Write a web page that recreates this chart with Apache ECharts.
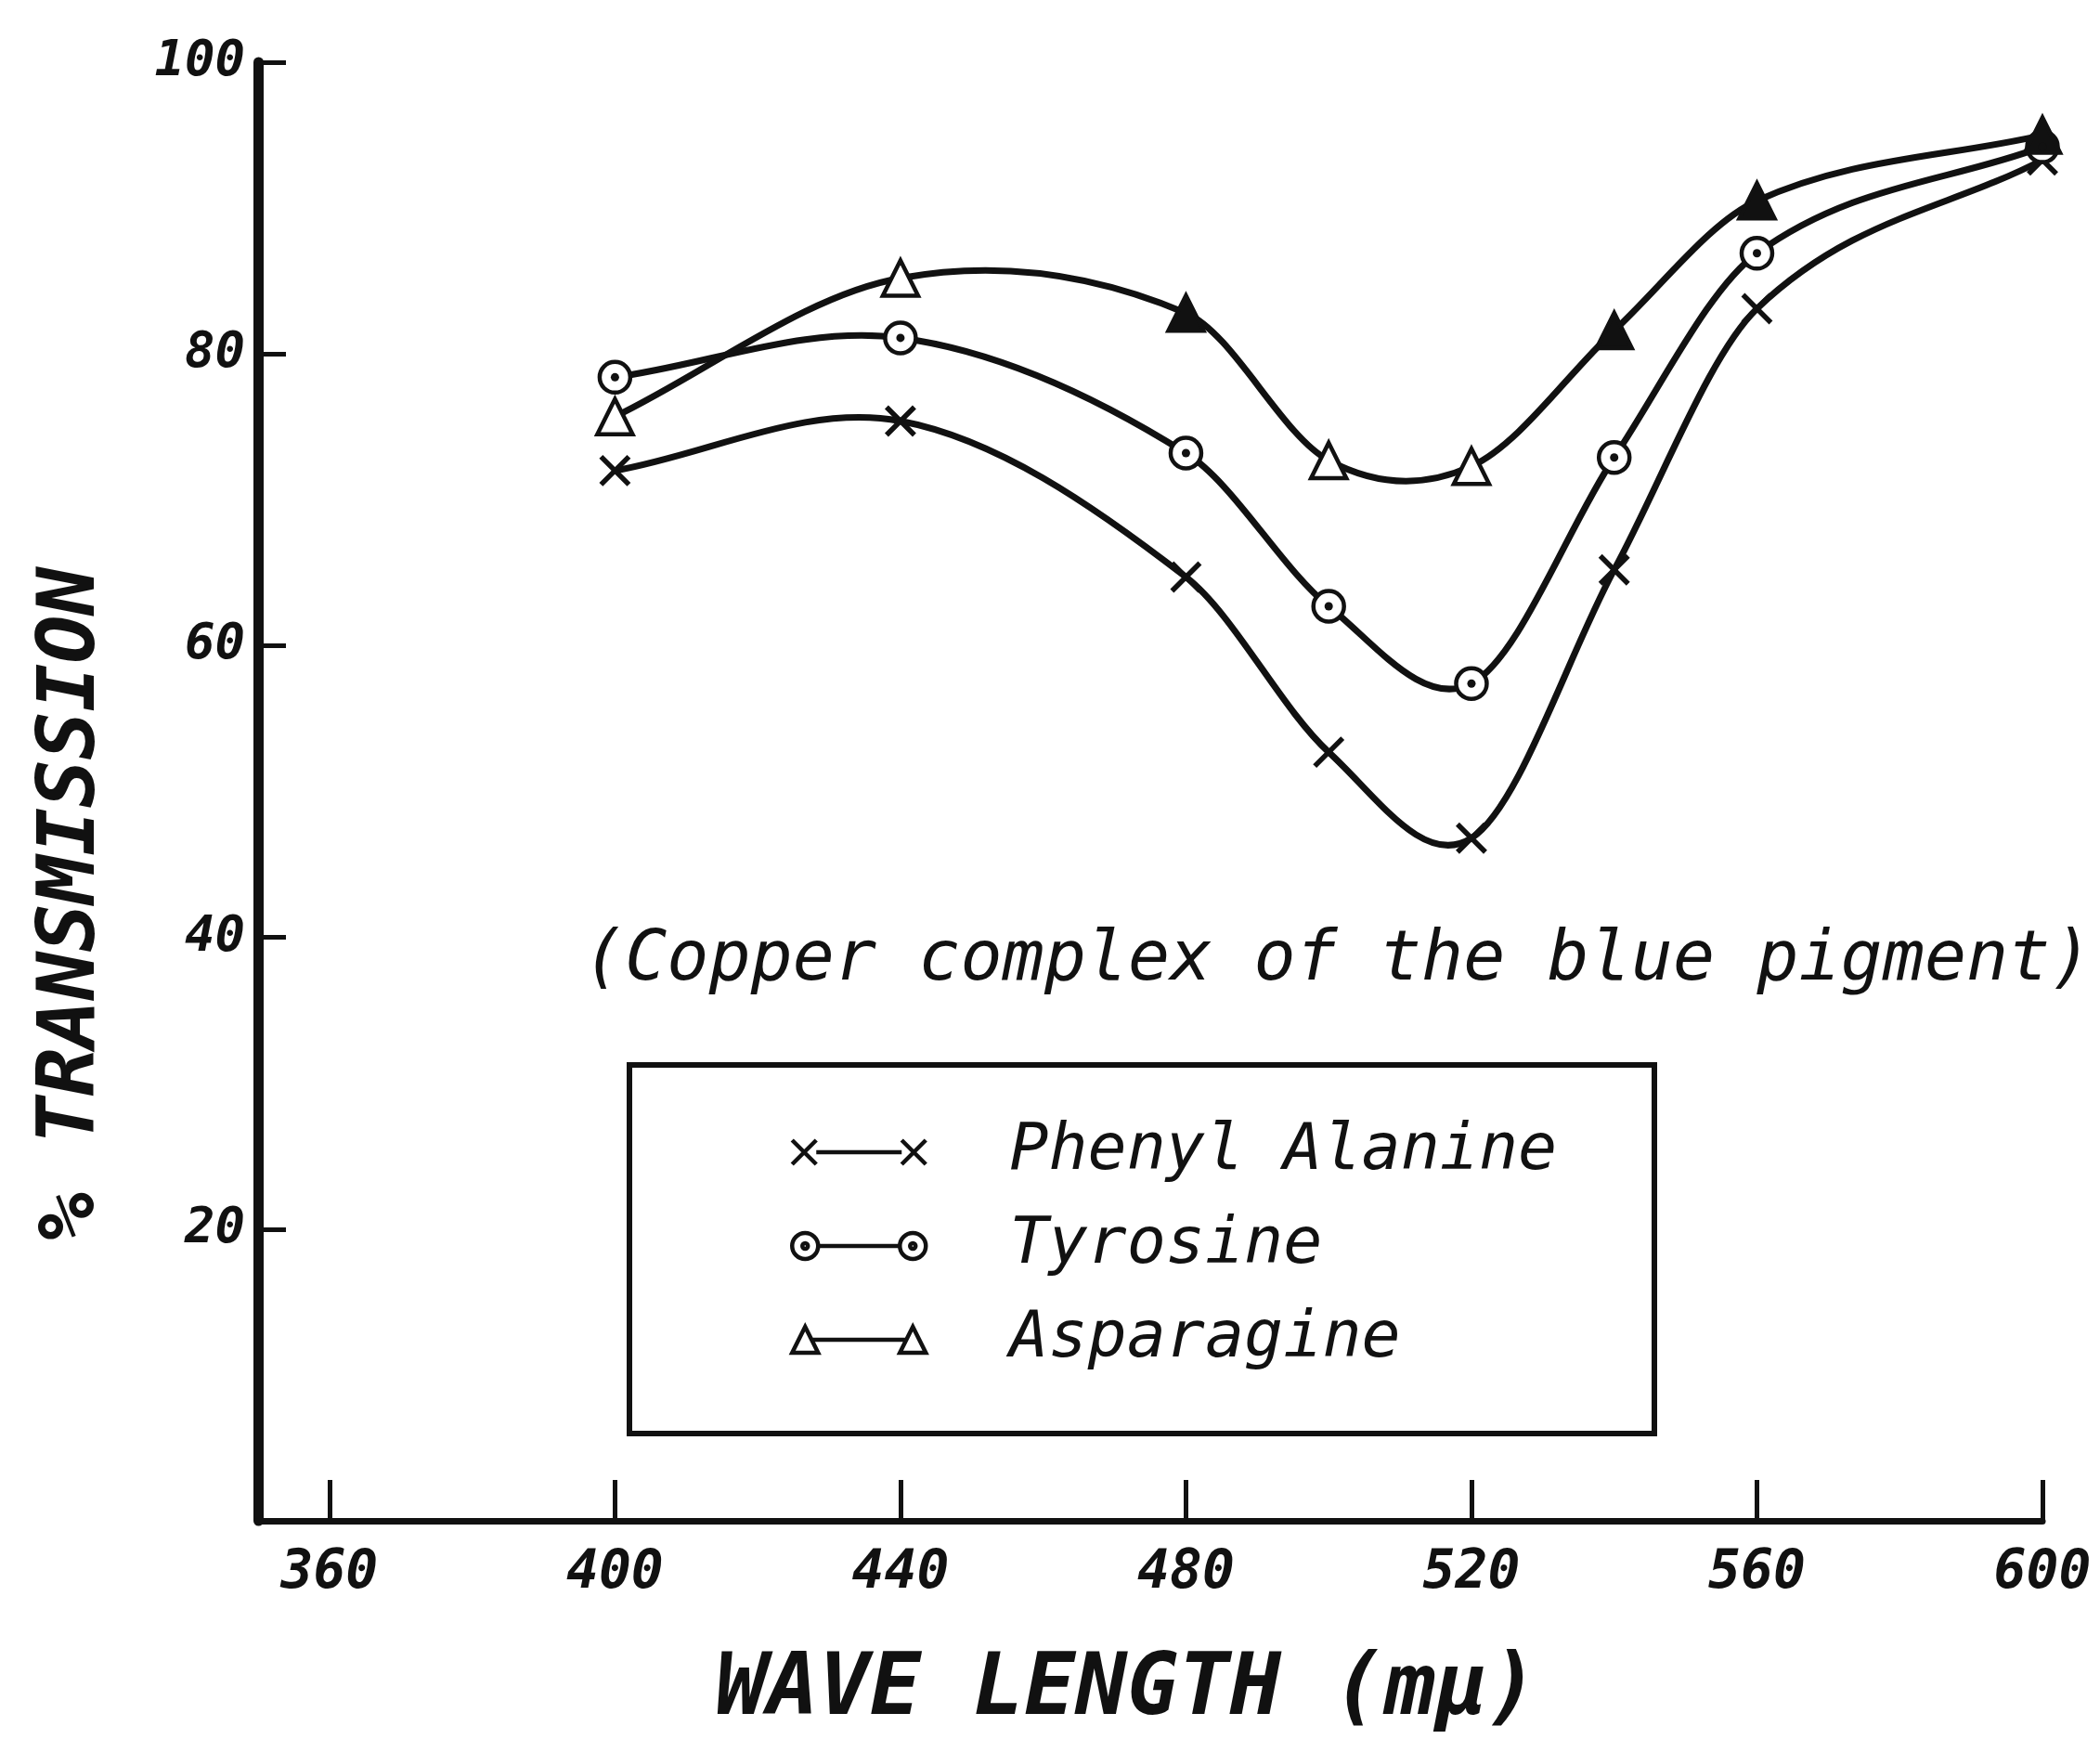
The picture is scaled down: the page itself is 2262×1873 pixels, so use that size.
<!DOCTYPE html>
<html><head><meta charset="utf-8">
<script src="https://cdn.jsdelivr.net/npm/echarts@6/dist/echarts.min.js"></script>
<style>html,body{margin:0;padding:0;background:#fff}#c{width:2262px;height:1873px}</style>
</head><body><div id="c"></div>
<script>
// ---- data ----
const wavelengths = [400, 440, 480, 500, 520, 540, 560, 600];
const phenylAlanine = [72.0, 75.4, 64.7, 52.7, 46.8, 65.2, 83.1, 93.3];
const tyrosine = [78.4, 81.1, 73.2, 62.7, 57.4, 72.9, 86.9, 94.2];
const asparagine = [75.7, 85.2, 82.8, 72.7, 72.3, 81.6, 90.5, 95.0];
const xTickValues = [360, 400, 440, 480, 520, 560, 600];
const yTickValues = [20, 40, 60, 80, 100];
const seriesNames = ['Phenyl Alanine', 'Tyrosine', 'Asparagine'];
const annotationText = '(Copper complex of the blue pigment)';
const xAxisTitle = 'WAVE LENGTH (m\u03bc)';
const yAxisTitle = '% TRANSMISSION';
// which asparagine triangles are drawn solid in the original
const asparagineSolid = [false, false, true, false, false, true, true, true];

// ---- styling ----
const FONT = "'DejaVu Sans Mono', monospace";
const INK = '#111';
const pairs = (ys) => wavelengths.map((x, i) => [x, ys[i]]);

// smooth hand-drawn style curve through the points (cubic Hermite, converted via the axis scales)
function splinePath(xs, ys, api) {
  const n = xs.length;
  const m = xs.map((x, i) => {
    if (i === 0) return (ys[1] - ys[0]) / (xs[1] - xs[0]);
    if (i === n - 1) return (ys[n - 1] - ys[n - 2]) / (xs[n - 1] - xs[n - 2]);
    return (ys[i + 1] - ys[i - 1]) / (xs[i + 1] - xs[i - 1]);
  });
  const P = (x, y) => api.coord([x, y]);
  const p0 = P(xs[0], ys[0]);
  let d = 'M' + p0[0] + ',' + p0[1];
  for (let i = 0; i < n - 1; i++) {
    const h = xs[i + 1] - xs[i];
    const c1 = P(xs[i] + h / 3, ys[i] + m[i] * h / 3);
    const c2 = P(xs[i + 1] - h / 3, ys[i + 1] - m[i + 1] * h / 3);
    const p1 = P(xs[i + 1], ys[i + 1]);
    d += ' C' + c1[0] + ',' + c1[1] + ' ' + c2[0] + ',' + c2[1] + ' ' + p1[0] + ',' + p1[1];
  }
  return d;
}
function curveSeries(name, ys) {
  return {
    name: name + ' curve', type: 'custom', data: pairs(ys), z: 2, silent: true,
    renderItem: (params, api) => {
      if (params.dataIndex !== 0) return null;
      return {type: 'path', shape: {pathData: splinePath(wavelengths, ys, api)},
              style: {fill: 'none', stroke: INK, lineWidth: 7, lineCap: 'round', lineJoin: 'round'}};
    }
  };
}

const crossSymbol = 'path://M0,0L20,20M20,0L0,20';
const crossIcon = 'path://M0,1L26,27M26,1L0,27M26,14L118,14M118,1L144,27M144,1L118,27';
const circleIcon = 'path://M0,14A14,14,0,1,0,28,14A14,14,0,1,0,0,14ZM11,14A3,3,0,1,0,17,14A3,3,0,1,0,11,14ZM28,14L116,14M116,14A14,14,0,1,0,144,14A14,14,0,1,0,116,14ZM127,14A3,3,0,1,0,133,14A3,3,0,1,0,127,14Z';
const triIcon = 'path://M0,28L14,0L28,28ZM21,14L123,14M116,28L130,0L144,28Z';
const iconStyle = {color: 'rgba(0,0,0,0)', borderColor: INK, borderWidth: 4.5};

const chart = echarts.init(document.getElementById('c'), null, {renderer: 'canvas'});
chart.setOption({
  backgroundColor: '#fff',
  animation: false,
  grid: {left: 278, right: 62, top: 67, bottom: 223, containLabel: false},
  xAxis: {
    type: 'value', min: 350, max: 600,
    name: xAxisTitle, nameLocation: 'middle', nameGap: 138,
    nameTextStyle: {fontFamily: FONT, fontStyle: 'italic', fontWeight: 'bold', fontSize: 92, color: INK, padding: [0, 50, 0, 0]},
    axisLine: {show: true, lineStyle: {color: INK, width: 7}},
    axisTick: {show: true, inside: true, length: 44, lineStyle: {color: INK, width: 5}, customValues: xTickValues},
    axisLabel: {show: true, customValues: xTickValues, margin: 28, fontFamily: FONT, fontStyle: 'italic', fontWeight: 'bold', fontSize: 58, color: INK},
    splitLine: {show: false}
  },
  yAxis: {
    type: 'value', min: 0, max: 100, interval: 20,
    name: yAxisTitle, nameLocation: 'middle', nameGap: 156, nameRotate: 90,
    nameTextStyle: {fontFamily: FONT, fontStyle: 'italic', fontWeight: 'bold', fontSize: 86, color: INK, padding: [0, 242, 0, 0]},
    axisLine: {show: true, lineStyle: {color: INK, width: 11}},
    axisTick: {show: true, inside: true, length: 30, lineStyle: {color: INK, width: 5}, customValues: yTickValues},
    axisLabel: {show: true, customValues: yTickValues, margin: 14, fontFamily: FONT, fontStyle: 'italic', fontWeight: 'bold', fontSize: 54, color: INK},
    splitLine: {show: false}
  },
  legend: {
    orient: 'vertical', left: 851, top: 1206, padding: 0,
    itemWidth: 144, itemHeight: 28, itemGap: 31, selectedMode: false,
    symbolKeepAspect: true,
    textStyle: {fontFamily: FONT, fontStyle: 'italic', fontSize: 70, color: INK, lineHeight: 70, padding: [0, 0, 0, 85]},
    data: [
      {name: seriesNames[0], icon: crossIcon, itemStyle: iconStyle},
      {name: seriesNames[1], icon: circleIcon, itemStyle: iconStyle},
      {name: seriesNames[2], icon: triIcon, itemStyle: iconStyle}
    ]
  },
  graphic: [
    {type: 'rect', shape: {x: 678, y: 1147, width: 1104, height: 397}, style: {fill: 'none', stroke: INK, lineWidth: 6}},
    {type: 'text', x: 628, y: 1036, style: {text: annotationText, fontFamily: FONT, fontStyle: 'italic', fontSize: 75, fill: INK, verticalAlign: 'middle'}}
  ],
  series: [
    curveSeries(seriesNames[0], phenylAlanine),
    curveSeries(seriesNames[1], tyrosine),
    curveSeries(seriesNames[2], asparagine),
    {
      name: seriesNames[0], type: 'scatter', data: pairs(phenylAlanine), z: 3,
      symbol: crossSymbol, symbolSize: 30,
      itemStyle: {color: INK, borderColor: INK, borderWidth: 5.5, opacity: 1}
    },
    {
      name: seriesNames[1], type: 'scatter', data: pairs(tyrosine), z: 3,
      symbol: 'circle', symbolSize: 33,
      itemStyle: {color: '#fff', borderColor: INK, borderWidth: 4.5, opacity: 1}
    },
    {
      name: seriesNames[2], type: 'scatter', z: 3,
      data: pairs(asparagine).map((p, i) => ({value: p, itemStyle: {color: asparagineSolid[i] ? INK : '#fff'}})),
      symbol: 'triangle', symbolSize: 38,
      itemStyle: {color: '#fff', borderColor: INK, borderWidth: 4.5, opacity: 1}
    },
    {
      name: 'Tyrosine centre', type: 'scatter', data: pairs(tyrosine), silent: true,
      symbol: 'circle', symbolSize: 9, itemStyle: {color: INK, opacity: 1}, z: 5
    }
  ]
});
</script></body></html>
